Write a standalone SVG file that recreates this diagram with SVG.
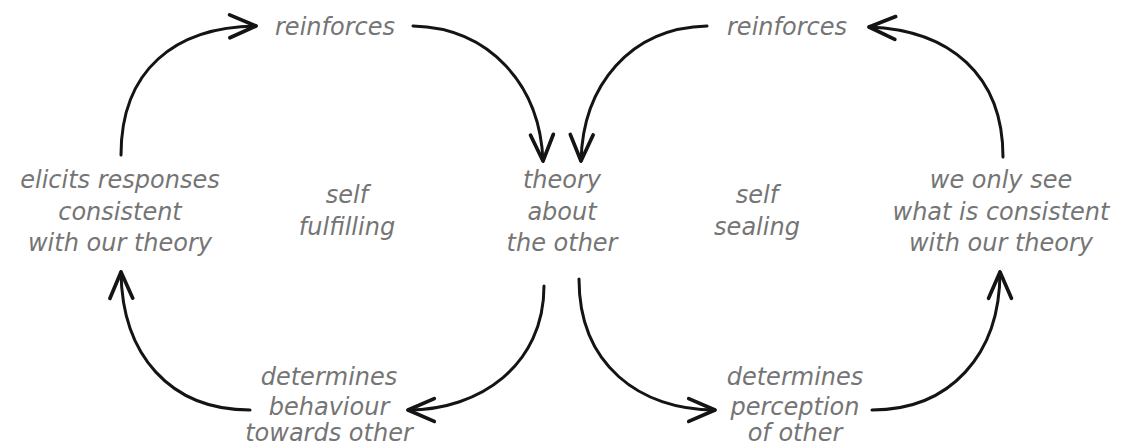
<svg xmlns="http://www.w3.org/2000/svg" width="1127" height="445" viewBox="0 0 1127 445">
<style>
.t{font-family:"DejaVu Sans",sans-serif;font-size:24px;font-style:oblique;fill:#757575;text-anchor:middle}
.c{fill:none;stroke:#141414;stroke-width:3;stroke-linecap:round}
</style>
<defs>
<marker id="ah" markerUnits="userSpaceOnUse" markerWidth="40" markerHeight="40" viewBox="-30 -15 35 30" refX="0" refY="0" orient="auto">
<path d="M-23,-10 L0,0 L-23,10" fill="none" stroke="#141414" stroke-width="3.2" stroke-linecap="round" stroke-linejoin="round"/>
</marker>
</defs>
<rect width="1127" height="445" fill="#fff"/>
<g id="connectors">
<path class="c" d="M121,155 C121,70 175,27 256,26" marker-end="url(#ah)"/>
<path class="c" d="M413,26 C490,28 540,85 543,161" marker-end="url(#ah)"/>
<path class="c" d="M707,26 C630,28 583,85 581,161" marker-end="url(#ah)"/>
<path class="c" d="M1003,157 C1003,75 950,30 869,27" marker-end="url(#ah)"/>
<path class="c" d="M544,286 C544,365 480,410 408,410" marker-end="url(#ah)"/>
<path class="c" d="M579,279 C579,365 640,410 715,410" marker-end="url(#ah)"/>
<path class="c" d="M250,410 C170,410 122,355 121,272" marker-end="url(#ah)"/>
<path class="c" d="M872,410 C950,410 1000,355 1000,272" marker-end="url(#ah)"/>
</g>
<g id="reinforces-left"><text class="t" x="335" y="35">reinforces</text></g>
<g id="reinforces-right"><text class="t" x="787" y="35">reinforces</text></g>
<g id="elicits"><text class="t" x="120" y="188">elicits responses</text><text class="t" x="120" y="220">consistent</text><text class="t" x="120" y="251">with our theory</text></g>
<g id="self-fulfilling"><text class="t" x="347" y="203">self</text><text class="t" x="347" y="235">fulfilling</text></g>
<g id="theory"><text class="t" x="562" y="188">theory</text><text class="t" x="562" y="220">about</text><text class="t" x="562" y="251">the other</text></g>
<g id="self-sealing"><text class="t" x="757" y="203">self</text><text class="t" x="757" y="235">sealing</text></g>
<g id="we-only-see"><text class="t" x="1001" y="188">we only see</text><text class="t" x="1001" y="220">what is consistent</text><text class="t" x="1001" y="251">with our theory</text></g>
<g id="determines-behaviour"><text class="t" x="329" y="385">determines</text><text class="t" x="329" y="415">behaviour</text><text class="t" x="329" y="441">towards other</text></g>
<g id="determines-perception"><text class="t" x="795" y="385">determines</text><text class="t" x="795" y="415">perception</text><text class="t" x="795" y="441">of other</text></g>
</svg>
